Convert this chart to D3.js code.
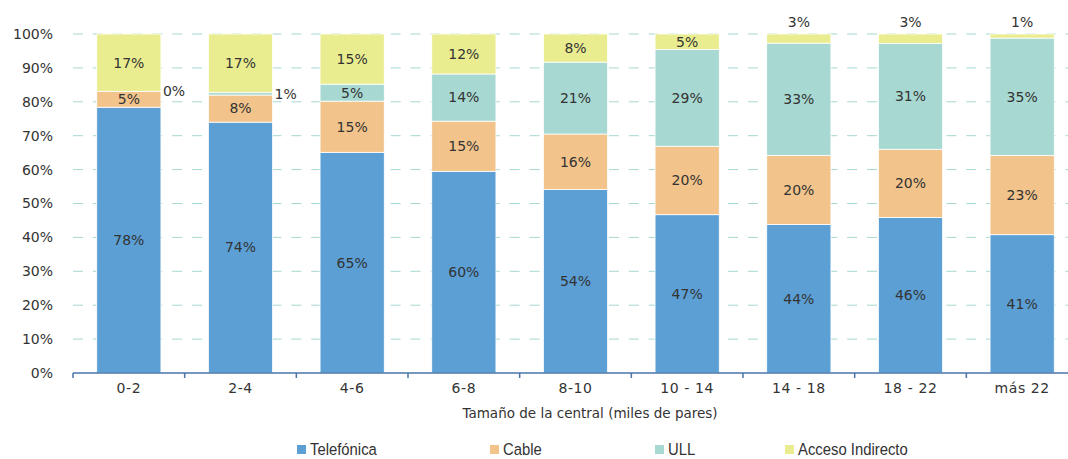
<!DOCTYPE html>
<html>
<head>
<meta charset="utf-8">
<script src="https://cdn.jsdelivr.net/npm/d3@7"></script>
<style>
  body { margin: 0; background: #fff; }
  svg { display: block; }
</style>
</head>
<body>
<svg id="chart" width="1068" height="459"></svg>
<script>
// Data (percent of lines per exchange size)
const categories = ["0-2", "2-4", "4-6", "6-8", "8-10", "10 - 14", "14 - 18", "18 - 22", "más 22"];
const seriesNames = ["Telefónica", "Cable", "ULL", "Acceso Indirecto"];
const telefonica = [78.4, 74.0, 65.1, 59.5, 54.1, 46.7, 43.8, 45.9, 40.8];
const cable = [4.7, 8.0, 15.1, 14.8, 16.4, 20.2, 20.4, 20.1, 23.4];
const ull = [0.0, 0.8, 5.0, 13.9, 21.2, 28.5, 33.1, 31.2, 34.6];
const accesoIndirecto = [16.9, 17.2, 14.8, 11.8, 8.3, 4.6, 2.7, 2.8, 1.2];
const yTicks = [0, 10, 20, 30, 40, 50, 60, 70, 80, 90, 100];

const COLORS = ["#5b9fd5", "#f2c38a", "#a7d8d1", "#eaed8f"];
const TEXT_COLOR = "#333333";
const LABEL_FONT = "'DejaVu Sans', sans-serif";

const svg = d3.select("#chart");
const plot = { left: 73, right: 1078, top: 34, bottom: 373 };

// Build rows for the stack
const rows = categories.map((c, i) => ({
    cat: c,
    "Telefónica": telefonica[i],
    "Cable": cable[i],
    "ULL": ull[i],
    "Acceso Indirecto": accesoIndirecto[i]
}));
const stacked = d3.stack().keys(seriesNames)(rows);

const x = d3.scaleBand()
    .domain(categories)
    .range([plot.left, plot.right])
    .paddingInner(0.425)
    .paddingOuter(0.2125);
const y = d3.scaleLinear().domain([0, 100]).range([plot.bottom, plot.top]);

// Dashed gridlines
svg.append("g")
    .selectAll("line")
    .data(yTicks.filter(t => t > 0))
    .enter()
    .append("line")
    .attr("x1", plot.left)
    .attr("x2", plot.right)
    .attr("y1", d => y(d))
    .attr("y2", d => y(d))
    .attr("stroke", "#a7d8d1")
    .attr("stroke-width", 1)
    .attr("stroke-dasharray", "10,9.85");

// Y tick labels (no axis line)
svg.append("g")
    .selectAll("text")
    .data(yTicks)
    .enter()
    .append("text")
    .attr("x", 53)
    .attr("y", d => y(d))
    .attr("dy", "0.35em")
    .attr("text-anchor", "end")
    .attr("font-family", LABEL_FONT)
    .attr("font-size", 14)
    .attr("fill", TEXT_COLOR)
    .text(d => d + "%");

// Bars
const layers = svg.append("g")
    .selectAll("g")
    .data(stacked)
    .enter()
    .append("g")
    .attr("fill", (d, i) => COLORS[i]);

layers.selectAll("rect")
    .data(d => d)
    .enter()
    .append("rect")
    .attr("x", d => x(d.data.cat))
    .attr("width", x.bandwidth())
    .attr("y", d => y(d[1]))
    .attr("height", d => y(d[0]) - y(d[1]))
    .attr("stroke", "#ffffff")
    .attr("stroke-width", 0.8);

// X axis: line with ticks at category boundaries
const step = x.step();
const boundaries = d3.range(categories.length + 1).map(i => plot.left + i * step);
const axisG = svg.append("g").attr("stroke", "#4a74a9").attr("stroke-width", 1.5);
axisG.append("line")
    .attr("x1", plot.left).attr("x2", plot.right)
    .attr("y1", plot.bottom).attr("y2", plot.bottom);
axisG.selectAll("line.tick")
    .data(boundaries)
    .enter()
    .append("line")
    .attr("class", "tick")
    .attr("x1", d => d).attr("x2", d => d)
    .attr("y1", plot.bottom).attr("y2", plot.bottom + 5);

svg.append("g")
    .selectAll("text")
    .data(categories)
    .enter()
    .append("text")
    .attr("x", d => x(d) + x.bandwidth() / 2)
    .attr("y", 393)
    .attr("text-anchor", "middle")
    .attr("font-family", LABEL_FONT)
    .attr("font-size", 14)
    .attr("letter-spacing", 0.6)
    .attr("fill", TEXT_COLOR)
    .text(d => d);

svg.append("text")
    .attr("x", 590)
    .attr("y", 418)
    .attr("text-anchor", "middle")
    .attr("font-family", LABEL_FONT)
    .attr("font-size", 13.5)
    .attr("fill", TEXT_COLOR)
    .text("Tamaño de la central (miles de pares)");

// Value labels: inside the segment, or outside when the segment is very thin
const labels = [];
stacked.forEach((layer, si) => {
    layer.forEach(d => {
        const v = d[1] - d[0];
        const txt = Math.round(v) + "%";
        const cx = x(d.data.cat) + x.bandwidth() / 2;
        if (si === 3 && v < 4) {
            labels.push({ x: cx, y: y(100) - 7, anchor: "middle", t: txt, base: "auto" });
        } else if (v < 2) {
            labels.push({ x: x(d.data.cat) + x.bandwidth() + 2, y: y((d[0] + d[1]) / 2), anchor: "start", t: txt, base: "middle" });
        } else {
            labels.push({ x: cx, y: y((d[0] + d[1]) / 2), anchor: "middle", t: txt, base: "middle" });
        }
    });
});
svg.append("g")
    .selectAll("text")
    .data(labels)
    .enter()
    .append("text")
    .attr("x", d => d.x)
    .attr("y", d => d.y)
    .attr("dy", d => d.base === "middle" ? "0.35em" : 0)
    .attr("text-anchor", d => d.anchor)
    .attr("font-family", LABEL_FONT)
    .attr("font-size", 14)
    .attr("fill", TEXT_COLOR)
    .text(d => d.t);

// Legend (condensed text like the original)
const legendX = [297, 490, 655, 785];
const legend = svg.append("g")
    .selectAll("g")
    .data(seriesNames)
    .enter()
    .append("g")
    .attr("transform", (d, i) => `translate(${legendX[i]}, 445)`);
legend.append("rect")
    .attr("width", 9)
    .attr("height", 9)
    .attr("fill", (d, i) => COLORS[i]);
legend.append("text")
    .attr("transform", "translate(13, 4.5) scale(0.9, 1)")
    .attr("dy", "0.36em")
    .attr("font-family", "'Liberation Sans', Arial, sans-serif")
    .attr("font-size", 16.5)
    .attr("fill", TEXT_COLOR)
    .text(d => d);
</script>
</body>
</html>
